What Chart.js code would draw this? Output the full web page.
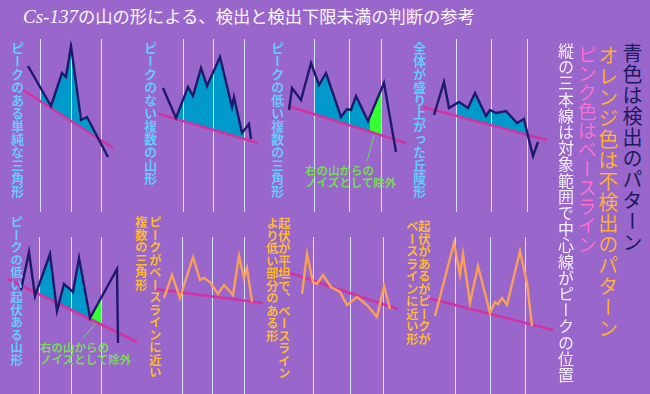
<!DOCTYPE html>
<html>
<head>
<meta charset="utf-8">
<script src="https://cdn.jsdelivr.net/npm/chart.js@4.4.1/dist/chart.umd.min.js"></script>
<style>
html, body { margin: 0; padding: 0; }
body { width: 650px; height: 394px; background: #9966cc; position: relative; overflow: hidden;
  font-family: "Noto Sans CJK JP", sans-serif; }
canvas { position: absolute; }
.v { position: absolute; writing-mode: vertical-rl; white-space: nowrap; font-weight: bold; }
.top { font-size: 13px; line-height: 14px; }
.bot { font-size: 12.5px; line-height: 13px; }
.cy { color: #66ccff; }
.or { color: #ffbb33; }
.note { position: absolute; color: #77dd55; font-size: 11.5px; line-height: 12px; font-weight: bold; white-space: nowrap; }
.side { position: absolute; writing-mode: vertical-rl; white-space: nowrap; }
#title { position: absolute; left: 23px; top: 4px; color: #fbf6ff; font-size: 17.3px; line-height: 24px; white-space: nowrap; }
#title i { font-family: "Liberation Serif", serif; font-size: 19px; }
</style>
</head>
<body>
<div id="title"><i>Cs-137</i>の山の形による、検出と検出下限未満の判断の参考</div>

<canvas id="c1" width="100" height="173" style="left:20px;top:39px"></canvas>
<canvas id="c2" width="108" height="173" style="left:155px;top:39px"></canvas>
<canvas id="c3" width="125" height="173" style="left:285px;top:39px"></canvas>
<canvas id="c4" width="130" height="173" style="left:420px;top:39px"></canvas>
<canvas id="c5" width="135" height="157" style="left:5px;top:237px"></canvas>
<canvas id="c6" width="115" height="157" style="left:150px;top:237px"></canvas>
<canvas id="c7" width="125" height="157" style="left:275px;top:237px"></canvas>
<canvas id="c8" width="130" height="157" style="left:425px;top:237px"></canvas>

<div class="v top cy" style="left:10px;top:42px">ピークのある単純な三角形</div>
<div class="v top cy" style="left:143px;top:42px">ピークのない複数の山形</div>
<div class="v top cy" style="left:270px;top:42px">ピークの低い複数の三角形</div>
<div class="v top cy" style="left:412px;top:42px">全体が盛り上がった丘陵形</div>
<div class="v bot cy" style="left:10px;top:216px">ピークの低い起伏ある山形</div>
<div class="v bot or" style="left:134px;top:216px;line-height:14px">ピークがベースラインに近い<br>複数の三角形</div>
<div class="v bot or" style="left:266px;top:217px;line-height:12px">起伏が平坦で、ベースライン<br>より低い部分のある形</div>
<div class="v bot or" style="left:406px;top:220px;line-height:12px">起伏があるがピークが<br>ベースラインに近い形</div>

<div class="note" style="left:305px;top:164px">右の山からの<br>ノイズとして除外</div>
<div class="note" style="left:40px;top:341px">右の山からの<br>ノイズとして除外</div>

<div class="side" style="left:622px;top:43px;color:#1c1a5e;font-size:20px;line-height:20px;letter-spacing:1px">青色は検出のパターン</div>
<div class="side" style="left:598px;top:45px;color:#ffb233;font-size:20px;line-height:20px;letter-spacing:1px">オレンジ色は不検出のパターン</div>
<div class="side" style="left:578px;top:45px;color:#ff6ecf;font-size:19px;line-height:19px">ピンク色はベースライン</div>
<div class="side" style="left:558px;top:43px;color:#f4eeff;font-size:16px;line-height:16px;letter-spacing:0.2px">縦の三本線は対象範囲で中心線がピークの位置</div>

<script>
// x = channel inside the panel, y = counts above the panel floor

// 1) single triangle with a peak (detected)
const p1Ch   = [8, 31, 42, 46, 51, 61, 67, 88];
const p1Cnt  = [144, 104, 137, 133, 164, 90, 93, 53];
const p1BaseCh  = [3, 93];
const p1BaseCnt = [120, 62];
const p1Roi  = [20, 51, 81];
const p1Fill = [20, 81];

// 2) several hills, no peak (detected)
const p2Ch   = [8, 21, 33, 38, 46, 52, 65, 77, 79, 87, 94, 96];
const p2Cnt  = [122, 92, 123, 114, 142, 124, 153, 103, 113, 77, 86, 71];
const p2BaseCh  = [4, 103];
const p2BaseCnt = [96, 67];
const p2Roi  = [28, 58, 89];
const p2Fill = [21, 89];

// 3) several low triangles (detected, right part is noise)
const p3Ch   = [4, 7, 16, 26, 34, 41, 56, 62, 66, 71, 83, 99, 111];
const p3Cnt  = [100, 122, 110, 147, 125, 137, 93, 101, 100, 114, 89, 127, 58];
const p3BaseCh  = [3, 121];
const p3BaseCnt = [104, 67];
const p3Roi  = [29, 64, 96];
const p3Fill = [29, 85];
const p3Noise = [85, 96];
const p3PtrCh  = [90, 82];
const p3PtrCnt = [78, 49];

// 4) hill over the whole range (detected)
const p4Ch   = [14, 24, 29, 39, 48, 55, 66, 70, 76, 86, 97, 104, 108, 113, 118];
const p4Cnt  = [95, 128, 102, 108, 102, 117, 94, 100, 97, 99, 87, 91, 74, 54, 68];
const p4BaseCh  = [3, 127];
const p4BaseCnt = [103, 70];
const p4Roi  = [36, 71, 107];
const p4Fill = [36, 107];

// 5) low undulating hills (detected, right part is noise)
const p5Ch   = [16, 24, 30, 45, 52, 59, 68, 74, 85, 112, 113];
const p5Cnt  = [104, 142, 98, 140, 83, 110, 102, 136, 76, 125, 51];
const p5BaseCh  = [3, 132];
const p5BaseCnt = [115, 52];
const p5Roi  = [34, 66, 96];
const p5Fill = [34, 85];
const p5Noise = [85, 96];
const p5PtrCh  = [92, 78];
const p5PtrCnt = [72, 56];

// 6) peaks close to the baseline (not detected)
const p6Ch   = [14, 22, 30, 43, 50, 54, 60, 68, 74, 83, 89, 94, 97, 102];
const p6Cnt  = [96, 119, 96, 137, 114, 116, 112, 100, 109, 99, 138, 116, 126, 92];
const p6BaseCh  = [5, 113];
const p6BaseCnt = [105, 91];
const p6Roi  = [32, 62, 94];

// 7) flat, partly under the baseline (not detected)
const p7Ch   = [27, 32, 38, 42, 48, 56, 65, 72, 82, 92, 102, 109, 115];
const p7Cnt  = [100, 140, 112, 110, 119, 107, 102, 89, 97, 89, 77, 108, 85];
const p7BaseCh  = [3, 123];
const p7BaseCnt = [125, 85];
const p7Roi  = [38, 75, 108];

// 8) undulating, peak near the baseline (not detected)
const p8Ch   = [10, 29, 35, 38, 45, 53, 65, 70, 73, 77, 82, 95, 102, 107];
const p8Cnt  = [78, 151, 119, 140, 91, 128, 81, 92, 90, 96, 89, 143, 111, 68];
const p8BaseCh  = [3, 128];
const p8BaseCnt = [96, 64];
const p8Roi  = [30, 65, 100];

const NAVY = '#1d1a6b', ORANGE = '#f8a05a', PINK = '#d0359f';
const CYAN = '#0099cc', LIME = '#33ff33', ROI = '#d8e2ff', PTR = '#66dd55';

const pts = (xs, ys) => xs.map((v, i) => ({ x: v, y: ys[i] }));

// fill between count line and baseline, only where the line is above it, inside [from,to]
function areaFill(regions) {
  return {
    id: 'areaFill',
    beforeDraw(chart) {
      const { ctx, chartArea: a, scales: { x, y } } = chart;
      const line = chart.data.datasets[0].data;
      const base = chart.data.datasets[1].data;
      const px = p => x.getPixelForValue(p.x), py = p => y.getPixelForValue(p.y);
      regions.forEach(r => {
        const x0 = x.getPixelForValue(r.range[0]), x1 = x.getPixelForValue(r.range[1]);
        ctx.save();
        ctx.beginPath();
        ctx.rect(x0, a.top, x1 - x0, a.bottom - a.top);
        ctx.clip();
        ctx.beginPath();
        base.forEach((p, i) => i ? ctx.lineTo(px(p), py(p)) : ctx.moveTo(px(p), py(p)));
        ctx.lineTo(px(base[base.length - 1]), a.top);
        ctx.lineTo(px(base[0]), a.top);
        ctx.closePath();
        ctx.clip();
        ctx.beginPath();
        line.forEach((p, i) => i ? ctx.lineTo(px(p), py(p)) : ctx.moveTo(px(p), py(p)));
        ctx.lineTo(px(line[line.length - 1]), a.bottom);
        ctx.lineTo(px(line[0]), a.bottom);
        ctx.closePath();
        ctx.fillStyle = r.color;
        ctx.fill();
        ctx.restore();
      });
    }
  };
}

function panel(id, cfg) {
  const cv = document.getElementById(id);
  const ds = [
    { data: pts(cfg.ch, cfg.cnt), borderColor: cfg.color, borderWidth: 2.4 },
    { data: pts(cfg.baseCh, cfg.baseCnt), borderColor: PINK, borderWidth: 2.6 }
  ];
  if (cfg.ptrCh) ds.push({ data: pts(cfg.ptrCh, cfg.ptrCnt), borderColor: PTR, borderWidth: 1 });
  ds.forEach(d => Object.assign(d, { showLine: true, pointRadius: 0, tension: 0, clip: false }));
  new Chart(cv, {
    type: 'scatter',
    data: { datasets: ds },
    options: {
      responsive: false, animation: false, events: [],
      layout: { padding: 0, autoPadding: false },
      plugins: { legend: { display: false }, tooltip: { enabled: false } },
      scales: {
        x: { type: 'linear', min: 0, max: cv.width,
             ticks: { display: false }, border: { display: false },
             grid: { color: ROI, lineWidth: 1, drawTicks: false },
             afterBuildTicks: s => { s.ticks = cfg.roi.map(v => ({ value: v })); } },
        y: { type: 'linear', min: cfg.yMin, max: cfg.yMin + cv.height, display: false }
      }
    },
    plugins: [areaFill(cfg.fills || [])]
  });
}

panel('c1', { ch: p1Ch, cnt: p1Cnt, baseCh: p1BaseCh, baseCnt: p1BaseCnt, roi: p1Roi, color: NAVY, yMin: -2,
  fills: [{ range: p1Fill, color: CYAN }] });
panel('c2', { ch: p2Ch, cnt: p2Cnt, baseCh: p2BaseCh, baseCnt: p2BaseCnt, roi: p2Roi, color: NAVY, yMin: -2,
  fills: [{ range: p2Fill, color: CYAN }] });
panel('c3', { ch: p3Ch, cnt: p3Cnt, baseCh: p3BaseCh, baseCnt: p3BaseCnt, roi: p3Roi, color: NAVY, yMin: -2,
  ptrCh: p3PtrCh, ptrCnt: p3PtrCnt,
  fills: [{ range: p3Fill, color: CYAN }, { range: p3Noise, color: LIME }] });
panel('c4', { ch: p4Ch, cnt: p4Cnt, baseCh: p4BaseCh, baseCnt: p4BaseCnt, roi: p4Roi, color: NAVY, yMin: -2,
  fills: [{ range: p4Fill, color: CYAN }] });
panel('c5', { ch: p5Ch, cnt: p5Cnt, baseCh: p5BaseCh, baseCnt: p5BaseCnt, roi: p5Roi, color: NAVY, yMin: 0,
  ptrCh: p5PtrCh, ptrCnt: p5PtrCnt,
  fills: [{ range: p5Fill, color: CYAN }, { range: p5Noise, color: LIME }] });
panel('c6', { ch: p6Ch, cnt: p6Cnt, baseCh: p6BaseCh, baseCnt: p6BaseCnt, roi: p6Roi, color: ORANGE, yMin: 0 });
panel('c7', { ch: p7Ch, cnt: p7Cnt, baseCh: p7BaseCh, baseCnt: p7BaseCnt, roi: p7Roi, color: ORANGE, yMin: 0 });
panel('c8', { ch: p8Ch, cnt: p8Cnt, baseCh: p8BaseCh, baseCnt: p8BaseCnt, roi: p8Roi, color: ORANGE, yMin: 0 });
</script>
</body>
</html>
